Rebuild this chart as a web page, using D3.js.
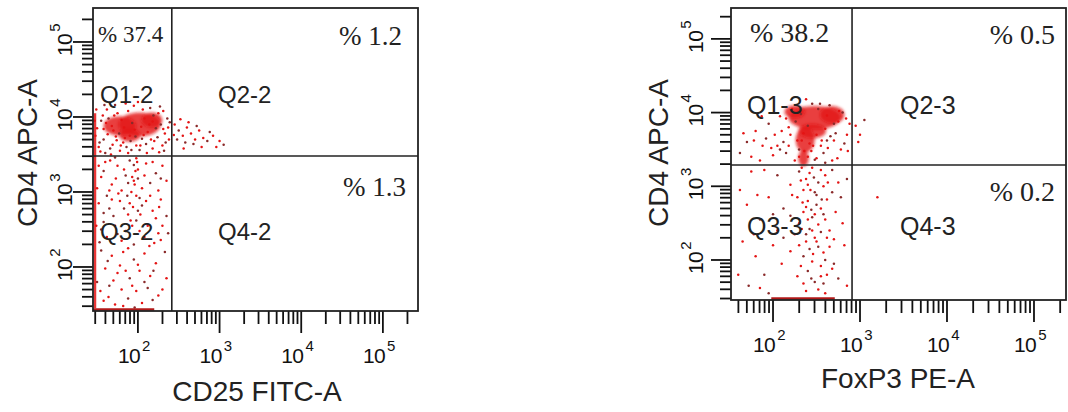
<!DOCTYPE html>
<html><head><meta charset="utf-8">
<script src="https://cdn.jsdelivr.net/npm/d3@7"></script>
<style>body{margin:0;background:#fff}svg{display:block}</style>
</head><body>
<svg id="chart" width="1068" height="412"></svg>
<script>
// ---------------- DATA ----------------
const xTitles = ["CD25 FITC-A", "FoxP3 PE-A"];
const yTitles = ["CD4 APC-A", "CD4 APC-A"];
const decadeExps = [2, 3, 4, 5];
const quadNames = [["Q1-2", "Q2-2", "Q3-2", "Q4-2"], ["Q1-3", "Q2-3", "Q3-3", "Q4-3"]];
const pctQ1 = ["% 37.4", "% 38.2"];
const pctQ2 = ["% 1.2", "% 0.5"];
const pctQ4 = ["% 1.3", "% 0.2"];
const xGates = [260, 810];
const yGates = [3020, 1945];

// events, as [log10 x, log10 y]
const eventsA = [
 [1.55,3.95],[1.62,4.10],[1.70,3.82],[1.58,3.70],[1.75,4.05],[1.82,3.66],[1.66,3.58],[1.90,3.75],[1.98,3.62],[2.05,3.71],
 [2.12,3.80],[2.20,3.68],[2.28,3.90],[2.33,3.78],[2.25,4.05],[2.15,4.12],[1.95,4.15],[1.85,4.18],[1.72,4.16],[1.50,3.85],
 [1.52,3.60],[1.60,3.52],[1.78,3.55],[1.88,3.52],[2.02,3.56],[2.18,3.58],[2.30,3.62],[2.36,3.98],[2.38,3.70],[1.68,3.88],
 [1.93,3.92],[2.08,3.98],[1.80,3.96],[2.22,3.85],[1.63,3.77],[1.74,3.69],[2.10,3.64],[1.57,4.02],[2.00,4.20],[2.27,4.14],
 [1.48,3.75],[1.54,3.54],[1.86,3.60],[1.96,3.83],[2.14,3.90],[2.32,3.55],[1.69,3.63],[2.04,3.87],[1.77,3.78],[1.61,3.92],
 [1.58,3.84],[1.64,3.98],[1.73,3.74],[1.83,3.86],[1.91,3.68],[2.07,3.76],[2.18,3.94],[2.24,3.73],[2.31,3.84],[2.37,3.86],
 [1.53,3.66],[1.67,3.50],[1.79,3.62],[1.92,3.56],[2.11,3.52],[2.26,3.53],[2.34,3.66],[1.47,3.95],[1.49,4.10],[1.59,4.16],
 [1.88,4.08],[2.06,4.10],[2.19,4.02],[2.31,4.08],[1.71,4.02],[1.97,3.74],[2.16,3.70],[1.84,3.72],[2.39,3.93],[2.03,3.62],
 [2.45,3.90],[2.50,3.82],[2.55,3.75],[2.60,3.86],[2.48,3.70],[2.65,3.78],[2.70,3.70],[2.58,3.66],[2.75,3.82],[2.80,3.72],
 [2.85,3.68],[2.92,3.75],[3.00,3.68],[3.05,3.63],[2.62,3.93],[2.52,3.97],[2.68,3.64],[2.78,3.60],[2.44,3.76],[2.88,3.80],
 [2.96,3.60],[2.56,3.58],[2.72,3.88],
 [1.60,3.40],[1.75,3.35],[1.90,3.42],[2.00,3.30],[2.10,3.38],[2.22,3.25],[1.55,3.20],[1.68,3.10],[1.85,3.22],[1.95,3.15],
 [2.05,3.05],[2.15,3.12],[2.30,3.35],[1.80,3.02],[1.62,2.95],[2.25,3.02],[1.98,3.45],[1.72,3.46],[2.35,3.15],[1.50,3.05],
 [1.95,3.36],[1.97,3.28],[1.93,3.20],[2.00,3.18],[1.96,3.10],[1.92,3.00],[2.02,2.92],[1.99,3.40],
 [1.52,3.35],[1.58,3.28],[1.66,3.42],[1.83,3.30],[1.88,3.12],[2.08,3.22],[2.18,3.40],[2.28,3.18],[1.73,3.18],[1.65,3.02],
 [1.87,2.95],[2.10,2.88],[2.22,2.65],[1.83,2.78],[1.68,2.90],[2.03,2.70],[1.58,2.72],[1.93,2.55],[2.26,2.80],[1.75,2.44],
 [2.02,2.48],[2.14,2.28],[1.53,2.33],[1.88,2.25],[2.28,2.36],[1.63,2.08],[1.78,2.02],[2.00,2.03],[2.19,1.95],[1.85,1.95],
 [1.70,1.82],[2.08,1.80],[1.54,1.68],[1.93,1.75],[2.18,1.56],[1.64,1.60],[1.82,1.48],[1.96,1.46],[2.30,1.70],[1.49,2.55],
 [2.37,2.45],[1.98,2.95],[1.94,2.80],[2.00,2.75],[1.91,2.62],
 [1.52,2.85],[1.65,2.78],[1.78,2.88],[1.88,2.70],[2.05,2.82],[2.18,2.75],[2.28,2.90],[1.58,2.60],[1.72,2.55],[1.85,2.48],
 [1.98,2.62],[2.12,2.55],[2.25,2.45],[2.35,2.68],[1.62,2.40],[1.80,2.35],[1.95,2.30],[2.08,2.40],[2.20,2.32],[1.70,2.68],
 [1.90,2.85],[2.15,2.95],[1.55,2.50],[2.30,2.55],[1.76,2.98],
 [1.55,2.22],[1.68,2.15],[1.82,2.20],[1.95,2.10],[2.08,2.18],[2.22,2.05],[2.33,2.20],[1.60,1.98],[1.75,1.92],[1.90,1.85],
 [2.02,1.95],[2.15,1.88],[1.65,1.75],[1.80,1.70],[1.98,1.68],[2.12,1.72],[1.58,1.55],[1.72,1.50],[1.88,1.58],[2.05,1.52],
 [2.35,1.85],[1.50,1.80],[2.25,1.62]
];
const eventsB = [
 [1.70,3.60],[1.80,3.75],[1.88,3.55],[1.95,3.85],[2.02,3.70],[2.08,3.95],[2.12,3.60],[2.18,3.80],[2.22,4.05],[2.30,3.50],
 [2.35,3.72],[2.40,3.40],[2.45,4.12],[2.55,3.55],[2.60,3.78],[2.65,4.10],[2.70,3.62],[2.75,3.88],[2.80,4.00],[2.85,3.70],
 [2.88,3.85],[1.62,3.45],[1.75,3.40],[1.85,3.35],[1.92,3.65],[2.00,3.42],[2.05,3.55],[2.15,3.45],[2.25,3.35],[2.50,3.38],
 [2.58,3.45],[2.68,3.35],[2.78,3.50],[2.32,3.98],[2.15,3.92],[2.62,3.96],[2.72,3.72],[1.98,3.52],[2.28,3.62],[2.52,4.05],
 [1.66,3.72],[2.42,3.58],[2.82,3.58],[2.38,4.18],
 [2.20,3.70],[2.26,3.88],[2.33,3.62],[2.44,3.48],[2.48,3.36],[2.56,3.62],[2.63,3.52],[2.70,3.85],[2.76,4.02],[2.84,3.92],
 [2.66,3.68],[2.36,3.48],[2.10,3.75],[2.08,3.50],[1.87,3.95],[1.78,3.62],[2.54,4.12],[2.86,3.48],[2.74,3.38],[2.60,3.32],
 [2.30,3.40],[2.18,3.55],[2.40,3.82],[2.50,3.70],[2.46,3.55],[2.62,3.62],
 [2.95,3.82],[3.00,3.70],[3.05,3.90],[2.98,3.60],[3.20,2.85],
 [2.30,3.20],[2.38,3.10],[2.45,3.25],[2.52,3.05],[2.60,3.15],[2.35,2.95],[2.48,2.92],[2.58,3.00],[2.42,3.18],[2.68,3.22],
 [1.75,3.20],[1.90,3.22],[2.05,3.15],[2.75,3.05],[2.20,3.02],[2.85,3.10],
 [2.33,3.25],[2.40,3.02],[2.47,3.12],[2.55,3.22],[2.63,3.05],[2.50,2.88],[2.43,2.95],[2.32,3.08],[2.56,2.82],[2.38,2.72],
 [2.48,2.62],[2.58,2.62],[2.40,2.55],[2.33,2.42],[2.55,2.38],[2.62,2.30],[2.45,2.40],[2.52,2.18],[2.38,2.25],[2.46,2.08],
 [2.60,2.00],[2.32,1.92],[2.55,1.78],[2.44,1.75],[2.68,1.88],[2.35,1.68],[2.58,1.68],[2.25,2.35],[2.70,2.28],[2.12,2.30],
 [1.62,2.95],[1.82,2.88],[2.00,2.62],[1.60,1.80],[1.85,1.62],[2.78,2.85],[2.82,2.20],[2.22,2.88],[2.68,2.92],
 [2.28,2.85],[2.40,2.80],[2.50,2.75],[2.62,2.82],[2.35,2.65],[2.45,2.58],[2.55,2.70],[2.30,2.50],[2.42,2.42],[2.52,2.48],
 [2.60,2.55],[2.38,2.35],[2.48,2.30],[2.65,2.40],[2.20,2.60],[2.72,2.65],[1.70,2.75],[1.85,2.55],[1.95,2.85],[2.05,2.40],
 [2.12,2.70],[2.80,2.50],[1.78,2.35],[2.44,2.68],[2.34,2.78],
 [2.30,2.20],[2.42,2.15],[2.50,2.25],[2.58,2.10],[2.35,2.05],[2.45,1.98],[2.55,1.92],[2.40,1.85],[2.62,1.80],[2.28,1.78],
 [2.48,1.70],[2.65,2.18],[2.20,2.12],[2.70,1.95],[1.65,2.25],[1.80,2.05],[1.90,1.80],[2.00,2.20],[2.10,1.95],[1.72,1.65],
 [2.52,1.60],[2.38,1.58],[2.75,1.75],[2.85,1.65],[2.60,1.55],[1.95,1.55]
];
// dense cores: [log10 x centre, log10 y centre, x half-spread, y half-spread]
const coresA = [[2.02, 3.90, 0.26, 0.16], [1.78, 3.88, 0.20, 0.13], [2.17, 3.96, 0.13, 0.10], [1.90, 3.76, 0.13, 0.09]];
const coresB = [[2.48, 3.93, 0.30, 0.16], [2.68, 3.97, 0.14, 0.12], [2.37, 3.63, 0.11, 0.17],
                [2.35, 3.38, 0.06, 0.11], [2.25, 4.01, 0.12, 0.09], [2.45, 3.75, 0.16, 0.10]];
// events piled on the axis minimum: [log10 from, log10 to]
const edgePileYA = [1.45, 4.05];
const bottomPileXA = [1.45, 2.20];
const bottomPileXB = [1.98, 2.71];

// ---------------- LAYOUT ----------------
const panels = [
  {x0: 93, x1: 418, y0: 8, y1: 311, xd: [1.45, 5.43], yd: [1.413, 5.453],
   events: eventsA, cores: coresA, edgeY: edgePileYA, bottomX: bottomPileXA,
   xTitle: [257, 401], yTitle: [37, 153], xTickBase: 363, yTickBase: 72,
   pct: [{t: pctQ1[0], x: 98, y: 42, a: "start", fs: 23}, {t: pctQ2[0], x: 402, y: 45, a: "end", fs: 27}, {t: pctQ4[0], x: 406, y: 196, a: "end", fs: 27}],
   q: [[100, 103], [218, 103], [100, 240], [218, 240]], qfs: 24},
  {x0: 731, x1: 1066, y0: 8, y1: 300, xd: [1.517, 5.368], yd: [1.457, 5.419],
   events: eventsB, cores: coresB, edgeY: null, bottomX: bottomPileXB,
   xTitle: [898, 388], yTitle: [668, 153], xTickBase: 352, yTickBase: 703,
   pct: [{t: pctQ1[1], x: 750, y: 42, a: "start", fs: 28}, {t: pctQ2[1], x: 1055, y: 44, a: "end", fs: 28}, {t: pctQ4[1], x: 1055, y: 201, a: "end", fs: 28}],
   q: [[747, 114], [900, 114], [747, 235], [900, 235]], qfs: 25}
];

const svg = d3.select("#chart");
const SANS = "'Liberation Sans', Arial, sans-serif";
const SERIF = "'Liberation Serif', 'Times New Roman', serif";
const RED = "#e41414";

const defs = svg.append("defs");
defs.append("filter").attr("id", "soft").attr("x", "-50%").attr("y", "-50%").attr("width", "200%").attr("height", "200%")
  .append("feGaussianBlur").attr("stdDeviation", 1.6);

panels.forEach((p, i) => {
  const x = d3.scaleLog().domain(p.xd.map(v => 10 ** v)).range([p.x0, p.x1]);
  const y = d3.scaleLog().domain(p.yd.map(v => 10 ** v)).range([p.y1, p.y0]);
  const g = svg.append("g");

  const allTicks = [];
  for (let e = 1; e <= 5; e++) for (let m = 1; m <= 9; m++) allTicks.push(m * 10 ** e);
  const xt = allTicks.filter(v => v >= x.domain()[0] && v <= x.domain()[1]);
  const yt = allTicks.filter(v => v >= y.domain()[0] && v <= y.domain()[1]);
  const isMajor = v => decadeExps.some(e => Math.abs(v - 10 ** e) < 1e-6);

  g.append("g").selectAll("line").data(xt).join("line")
    .attr("x1", d => x(d)).attr("x2", d => x(d))
    .attr("y1", p.y1).attr("y2", d => p.y1 + (isMajor(d) ? 22 : 13))
    .attr("stroke", "#111").attr("stroke-width", 1.8);
  g.append("g").selectAll("line").data(yt).join("line")
    .attr("y1", d => y(d)).attr("y2", d => y(d))
    .attr("x1", p.x0).attr("x2", d => p.x0 - (isMajor(d) ? 20 : 11))
    .attr("stroke", "#111").attr("stroke-width", 1.8);

  decadeExps.forEach(e => {
    const t = g.append("text").attr("x", x(10 ** e) - 20).attr("y", p.xTickBase)
      .attr("font-family", SANS).attr("font-size", 21).attr("letter-spacing", -0.6).attr("fill", "#111");
    t.append("tspan").text("10");
    t.append("tspan").attr("dy", -12).attr("dx", 2).attr("font-size", 15).text(e);
  });
  decadeExps.forEach(e => {
    const cy = y(10 ** e) + 3;
    const t = g.append("text").attr("transform", `translate(${p.yTickBase},${cy}) rotate(-90)`)
      .attr("x", -11).attr("y", 0)
      .attr("font-family", SANS).attr("font-size", 21).attr("letter-spacing", -0.6).attr("fill", "#111");
    t.append("tspan").text("10");
    t.append("tspan").attr("dy", -12).attr("dx", 2).attr("font-size", 15).text(e);
  });

  const data = g.append("g");
  const coreG = data.append("g").attr("filter", "url(#soft)");
  p.cores.forEach(c => {
    const cx = x(10 ** c[0]), cy = y(10 ** c[1]);
    const rx = (x(10 ** (c[0] + c[2])) - x(10 ** (c[0] - c[2]))) / 2;
    const ry = (y(10 ** (c[1] - c[3])) - y(10 ** (c[1] + c[3]))) / 2;
    coreG.append("ellipse").attr("cx", cx).attr("cy", cy).attr("rx", rx).attr("ry", ry)
      .attr("fill", RED).attr("opacity", 0.8);
  });
  data.append("g").selectAll("circle").data(p.events).join("circle")
    .attr("cx", d => x(10 ** d[0])).attr("cy", d => y(10 ** d[1]))
    .attr("r", 1.25).attr("fill", (d, k) => k % 3 === 0 ? "#8a2a2a" : RED);
  if (p.edgeY) {
    data.append("line").attr("x1", p.x0 + 2).attr("x2", p.x0 + 2)
      .attr("y1", y(10 ** p.edgeY[0])).attr("y2", y(10 ** p.edgeY[1]))
      .attr("stroke", RED).attr("stroke-width", 2.5).attr("opacity", 0.85);
  }
  if (p.bottomX) {
    data.append("line").attr("y1", p.y1 - 1.5).attr("y2", p.y1 - 1.5)
      .attr("x1", x(10 ** p.bottomX[0])).attr("x2", x(10 ** p.bottomX[1]))
      .attr("stroke", "#b01818").attr("stroke-width", 2.5);
  }

  g.append("line").attr("x1", x(xGates[i])).attr("x2", x(xGates[i])).attr("y1", p.y0).attr("y2", p.y1)
    .attr("stroke", "#222").attr("stroke-width", 1.6);
  g.append("line").attr("x1", p.x0).attr("x2", p.x1).attr("y1", y(yGates[i])).attr("y2", y(yGates[i]))
    .attr("stroke", "#222").attr("stroke-width", 1.6);
  g.append("rect").attr("x", p.x0).attr("y", p.y0).attr("width", p.x1 - p.x0).attr("height", p.y1 - p.y0)
    .attr("fill", "none").attr("stroke", "#222").attr("stroke-width", 1.8);

  quadNames[i].forEach((n, k) => {
    g.append("text").attr("x", p.q[k][0]).attr("y", p.q[k][1]).text(n)
      .attr("font-family", SANS).attr("font-size", p.qfs).attr("fill", "#222");
  });
  p.pct.forEach(o => {
    g.append("text").attr("x", o.x).attr("y", o.y).attr("text-anchor", o.a).text(o.t)
      .attr("font-family", SERIF).attr("font-size", o.fs).attr("fill", "#222");
  });
  g.append("text").attr("x", p.xTitle[0]).attr("y", p.xTitle[1]).attr("text-anchor", "middle")
    .text(xTitles[i]).attr("font-family", SANS).attr("font-size", 28).attr("fill", "#222");
  g.append("text").attr("transform", `translate(${p.yTitle[0]},${p.yTitle[1]}) rotate(-90)`)
    .attr("text-anchor", "middle").text(yTitles[i])
    .attr("font-family", SANS).attr("font-size", 28).attr("fill", "#222");
});
</script>
</body></html>
